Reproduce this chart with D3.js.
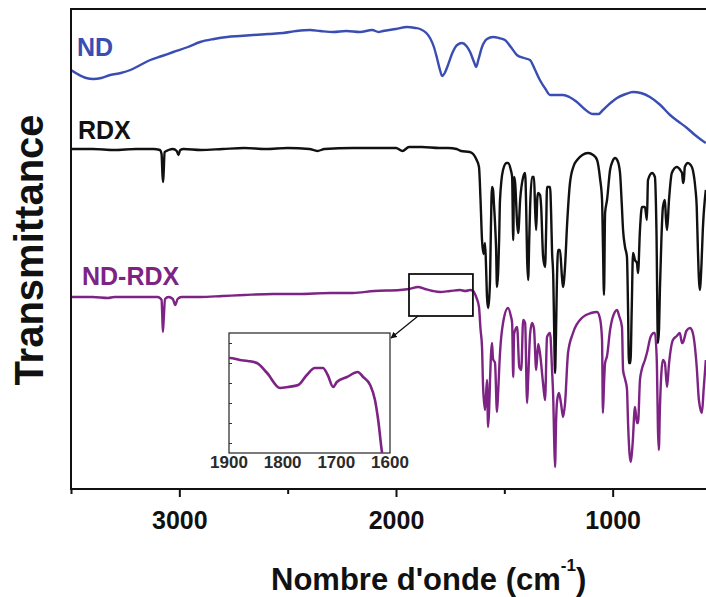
<!DOCTYPE html>
<html>
<head>
<meta charset="utf-8">
<script src="https://cdn.jsdelivr.net/npm/d3@7"></script>
<style>
  html, body { margin: 0; padding: 0; background: #ffffff; }
  svg { display: block; font-family: "Liberation Sans", Arial, sans-serif; font-weight: bold; }
</style>
</head>
<body>
<svg id="chart" width="706" height="597"></svg>
<script>
// FTIR spectra: [wavenumber (cm-1), offset transmittance (a.u.)]
const ndSpectrum = [
  [3500, 41.9], [3470, 41.5], [3430, 41.1], [3397, 41.0], [3360, 41.1], [3319, 41.4],
  [3270, 41.6], [3226, 41.9], [3180, 42.4], [3134, 42.9], [3080, 43.3], [3028, 43.7],
  [2960, 44.2], [2904, 44.7], [2840, 45.0], [2779, 45.2], [2720, 45.3], [2659, 45.4],
  [2590, 45.5], [2521, 45.6], [2460, 45.8], [2396, 45.9], [2350, 45.8], [2290, 45.7],
  [2230, 45.8], [2166, 45.7], [2110, 45.9], [2080, 45.7], [2060, 45.8], [2000, 46.0],
  [1949, 46.2], [1910, 46.1], [1889, 46.0], [1860, 45.6], [1843, 45.1], [1825, 44.2],
  [1811, 43.1], [1797, 41.9], [1787, 41.3], [1775, 41.6], [1760, 42.4], [1740, 43.6],
  [1718, 44.4], [1695, 44.6], [1675, 44.3], [1658, 43.7], [1640, 42.7], [1630, 42.2],
  [1620, 42.9], [1603, 44.2], [1580, 45.0], [1552, 45.2], [1525, 45.1], [1497, 44.9],
  [1470, 44.2], [1442, 43.4], [1410, 43.1], [1382, 42.9], [1360, 42.0], [1336, 40.9],
  [1310, 40.0], [1289, 39.4], [1260, 39.4], [1229, 39.4], [1200, 39.2], [1165, 38.7],
  [1130, 38.0], [1091, 37.5], [1065, 37.5], [1045, 37.9], [1010, 38.6], [980, 39.1],
  [940, 39.5], [906, 39.7], [870, 39.6], [828, 39.2], [780, 38.4], [735, 37.4],
  [700, 36.8], [657, 36.1], [620, 35.4], [590, 34.9], [570, 34.6]
];

const rdxSpectrum = [
  [3500, 34.0], [3400, 34.0], [3300, 33.9], [3200, 34.0], [3120, 34.0], [3090, 33.9],
  [3082, 33.5], [3078, 31.5], [3075, 30.7], [3072, 31.8], [3068, 33.7], [3050, 33.9],
  [3030, 34.0], [3012, 33.8], [3004, 33.4], [2996, 33.9], [2980, 34.0], [2900, 33.9],
  [2800, 34.0], [2700, 34.1], [2600, 34.0], [2500, 34.1], [2400, 34.0], [2363, 33.8],
  [2330, 34.0], [2200, 34.1], [2100, 34.1], [2000, 34.1], [1970, 33.8], [1940, 34.2],
  [1880, 34.2], [1800, 34.1], [1760, 34.1], [1720, 34.0], [1700, 33.8], [1660, 33.7],
  [1644, 33.5], [1630, 33.0], [1617, 32.2], [1610, 29.0], [1603, 24.9], [1596, 23.5],
  [1589, 24.6], [1584, 22.0], [1580, 19.2], [1575, 18.1], [1570, 19.0], [1566, 20.9],
  [1562, 26.0], [1557, 30.2], [1552, 29.9], [1548, 28.5], [1543, 26.6], [1538, 24.0],
  [1534, 20.2], [1529, 21.5], [1524, 25.0], [1520, 28.9], [1506, 31.9], [1490, 32.6],
  [1483, 32.6], [1470, 31.9], [1464, 31.2], [1459, 24.9], [1455, 31.2], [1450, 30.6],
  [1441, 26.6], [1436, 25.6], [1427, 28.9], [1413, 31.2], [1404, 31.6], [1399, 28.0],
  [1395, 23.2], [1390, 20.9], [1385, 25.0], [1381, 28.2], [1372, 31.2], [1363, 31.2],
  [1358, 28.0], [1353, 25.9], [1348, 29.0], [1344, 29.6], [1335, 29.4], [1330, 28.2],
  [1321, 23.2], [1312, 22.2], [1307, 26.0], [1303, 30.2], [1289, 30.2], [1284, 27.5],
  [1280, 23.9], [1274, 21.0], [1270, 16.0], [1266, 11.6], [1262, 15.0], [1258, 20.0],
  [1252, 23.9], [1243, 23.9], [1234, 21.2], [1229, 20.2], [1220, 22.2], [1210, 26.6],
  [1197, 30.6], [1180, 32.3], [1164, 32.9], [1140, 33.4], [1114, 33.6], [1090, 33.4],
  [1072, 32.9], [1058, 31.0], [1049, 28.9], [1045, 24.6], [1040, 19.4], [1035, 27.6],
  [1026, 28.9], [1012, 31.9], [1000, 32.8], [989, 33.1], [977, 32.8], [966, 31.6],
  [958, 28.5], [952, 25.9], [943, 24.2], [934, 23.2], [929, 18.0], [925, 12.6],
  [918, 12.6], [912, 18.0], [906, 23.6], [897, 22.9], [888, 22.6], [883, 21.6],
  [874, 25.9], [865, 28.2], [851, 28.2], [842, 26.9], [837, 30.9], [818, 31.6],
  [805, 31.2], [798, 26.0], [791, 14.6], [786, 16.0], [782, 19.9], [775, 25.0],
  [768, 28.2], [759, 28.9], [754, 27.0], [749, 25.9], [740, 28.9], [727, 31.6],
  [704, 32.2], [685, 31.8], [680, 31.6], [675, 30.6], [671, 31.0], [667, 32.2],
  [653, 32.6], [640, 32.4], [630, 31.9], [618, 30.0], [612, 28.2], [607, 24.2],
  [598, 19.9], [590, 22.5], [584, 25.9], [570, 29.9]
];

const ndRdxSpectrum = [
  [3500, 19.2], [3450, 19.2], [3400, 19.2], [3330, 19.1], [3300, 19.2], [3200, 19.2],
  [3100, 19.2], [3090, 19.1], [3082, 18.9], [3079, 17.5], [3076, 15.7], [3072, 17.0],
  [3066, 19.0], [3050, 19.2], [3030, 19.0], [3019, 18.4], [3008, 19.0], [2990, 19.2],
  [2904, 19.2], [2800, 19.3], [2700, 19.4], [2567, 19.5], [2450, 19.5], [2304, 19.6],
  [2200, 19.6], [2100, 19.8], [1981, 19.9], [1940, 20.0], [1898, 20.2], [1866, 20.0],
  [1830, 19.8], [1797, 19.7], [1751, 19.8], [1705, 19.9], [1680, 19.8], [1658, 19.9],
  [1644, 19.8], [1630, 19.2], [1617, 18.2], [1610, 16.0], [1603, 14.2], [1598, 10.2],
  [1589, 7.9], [1580, 10.9], [1575, 6.2], [1570, 8.0], [1566, 10.9], [1557, 14.6],
  [1552, 13.0], [1543, 12.6], [1534, 7.7], [1529, 9.5], [1520, 13.6], [1506, 16.6],
  [1483, 18.1], [1470, 17.3], [1464, 16.6], [1459, 11.2], [1455, 15.5], [1441, 16.2],
  [1431, 12.2], [1422, 11.9], [1413, 16.9], [1404, 16.6], [1395, 8.6], [1390, 11.0],
  [1381, 15.5], [1372, 16.6], [1363, 16.0], [1353, 11.9], [1344, 14.5], [1335, 13.5],
  [1321, 10.5], [1312, 8.9], [1303, 15.2], [1289, 15.6], [1280, 12.0], [1274, 8.9],
  [1270, 5.0], [1266, 2.2], [1261, 6.9], [1256, 8.9], [1248, 9.6], [1238, 8.5],
  [1229, 7.2], [1220, 8.5], [1206, 13.6], [1183, 15.6], [1137, 17.2], [1100, 17.6],
  [1072, 17.7], [1058, 17.0], [1049, 14.9], [1045, 7.6], [1040, 10.5], [1035, 12.6],
  [1026, 13.3], [1012, 15.9], [990, 17.7], [980, 17.9], [970, 17.3], [957, 16.2],
  [952, 11.9], [943, 11.0], [934, 10.0], [929, 6.6], [922, 3.5], [916, 2.7],
  [908, 4.5], [897, 8.2], [888, 6.6], [883, 6.6], [874, 10.9], [865, 12.0],
  [851, 12.9], [842, 13.6], [825, 15.2], [810, 15.6], [805, 15.6], [796, 12.6],
  [791, 6.0], [787, 3.9], [782, 8.0], [768, 12.9], [759, 12.6], [749, 10.2],
  [740, 12.5], [722, 14.9], [704, 15.3], [690, 15.6], [680, 14.6], [676, 14.6],
  [670, 15.0], [660, 15.8], [643, 16.1], [630, 15.6], [612, 12.2], [602, 8.9],
  [588, 7.6], [580, 10.0], [570, 12.9]
];

// ND-RDX between 1900 and 1600 cm-1, expanded scale
const insetSpectrum = [
  [1900, 4.25], [1898, 4.25], [1880, 4.15], [1865, 4.1], [1848, 4.0], [1829, 3.5],
  [1805, 2.75], [1790, 2.8], [1771, 2.9], [1755, 3.4], [1740, 3.75], [1725, 3.75],
  [1716, 3.4], [1706, 2.8], [1699, 3.05], [1680, 3.3], [1660, 3.55], [1650, 3.3],
  [1637, 2.9], [1628, 2.15], [1622, 1.15], [1615, -0.45], [1612, -0.9]
];

const seriesNames = ["ND", "RDX", "ND-RDX"];
const seriesColors = ["#3a4db2", "#111111", "#7d2384"];
const xMajorTicks = [3000, 2000, 1000];
const xMinorTicks = [3500, 2500, 1500, 500];
const insetXTicks = [1900, 1800, 1700, 1600];
const insetYTicks = [0, 1, 2, 3, 4, 5];
const zoomSpan = [1940, 1645];      // wavenumbers framed in the main plot
const zoomLevels = [17.3, 21.5];    // transmittance range framed in the main plot

const svg = d3.select("#chart");
const defs = svg.append("defs");
const plot = { left: 71, right: 721, top: 9, bottom: 489 };

const x = d3.scaleLinear().domain([3500, 500]).range([plot.left, plot.right]);
const y = d3.scaleLinear().domain([0, 48]).range([plot.bottom, plot.top]);

defs.append("clipPath").attr("id", "plotClip")
  .append("rect")
  .attr("x", plot.left).attr("y", plot.top)
  .attr("width", plot.right - plot.left).attr("height", plot.bottom - plot.top);

const line = d3.line()
  .x(d => x(d[0]))
  .y(d => y(d[1]))
  .curve(d3.curveMonotoneX);

// spectra
const curves = svg.append("g").attr("clip-path", "url(#plotClip)");
[ndSpectrum, rdxSpectrum, ndRdxSpectrum].forEach((s, i) => {
  curves.append("path")
    .datum(s)
    .attr("d", line)
    .attr("fill", "none")
    .attr("stroke", seriesColors[i])
    .attr("stroke-width", 2.4)
    .attr("stroke-linejoin", "round");
});

// frame
svg.append("rect")
  .attr("x", plot.left).attr("y", plot.top)
  .attr("width", plot.right - plot.left).attr("height", plot.bottom - plot.top)
  .attr("fill", "none").attr("stroke", "#111").attr("stroke-width", 2);

// bottom axis: major ticks with labels, minor ticks without
const majorAxis = d3.axisBottom(x).tickValues(xMajorTicks).tickSize(8).tickPadding(14)
  .tickFormat(d3.format("d"));
const gMajor = svg.append("g").attr("transform", `translate(0,${plot.bottom})`).call(majorAxis);
gMajor.select(".domain").remove();
gMajor.selectAll("line").attr("stroke", "#111").attr("stroke-width", 2);
gMajor.selectAll("text")
  .attr("fill", "#111")
  .style("font-size", "25px")
  .style("font-weight", "bold")
  .style("font-family", "'Liberation Sans', Arial, sans-serif");

const minorAxis = d3.axisBottom(x).tickValues(xMinorTicks).tickSize(5).tickFormat("");
const gMinor = svg.append("g").attr("transform", `translate(0,${plot.bottom})`).call(minorAxis);
gMinor.select(".domain").remove();
gMinor.selectAll("line").attr("stroke", "#111").attr("stroke-width", 2);

// axis titles
const xTitle = svg.append("text")
  .attr("x", 271).attr("y", 590)
  .attr("fill", "#111")
  .style("font-size", "31px");
xTitle.append("tspan").text("Nombre d'onde (cm");
xTitle.append("tspan").attr("dy", -19).style("font-size", "17px").text("-1");
xTitle.append("tspan").attr("dy", 19).text(")");

svg.append("text")
  .attr("transform", "translate(43,250) rotate(-90)")
  .attr("text-anchor", "middle")
  .attr("fill", "#111")
  .style("font-size", "40px")
  .text("Transmittance");

// series labels
const labelPos = [[77, 56], [78, 139], [82, 285]];
seriesNames.forEach((n, i) => {
  svg.append("text")
    .attr("x", labelPos[i][0]).attr("y", labelPos[i][1])
    .attr("fill", seriesColors[i])
    .style("font-size", "25px")
    .text(n);
});

// zoom window on the ND-RDX trace
const zx0 = x(zoomSpan[0]), zx1 = x(zoomSpan[1]);
const zy0 = y(zoomLevels[1]), zy1 = y(zoomLevels[0]);
svg.append("rect")
  .attr("x", zx0).attr("y", zy0)
  .attr("width", zx1 - zx0).attr("height", zy1 - zy0)
  .attr("fill", "none").attr("stroke", "#111").attr("stroke-width", 1.8);

// inset
const inset = { left: 229, right: 390, top: 333, bottom: 453 };
const ix = d3.scaleLinear().domain([1900, 1600]).range([inset.left, inset.right]);
const iy = d3.scaleLinear().domain([-0.5, 5.5]).range([inset.bottom, inset.top]);

defs.append("clipPath").attr("id", "insetClip")
  .append("rect")
  .attr("x", inset.left).attr("y", inset.top)
  .attr("width", inset.right - inset.left).attr("height", inset.bottom - inset.top);

svg.append("rect")
  .attr("x", inset.left).attr("y", inset.top)
  .attr("width", inset.right - inset.left).attr("height", inset.bottom - inset.top)
  .attr("fill", "#fff").attr("stroke", "#222").attr("stroke-width", 1.2);

const insetLine = d3.line()
  .x(d => ix(d[0]))
  .y(d => iy(d[1]))
  .curve(d3.curveMonotoneX);

svg.append("path")
  .datum(insetSpectrum)
  .attr("clip-path", "url(#insetClip)")
  .attr("d", insetLine)
  .attr("fill", "none")
  .attr("stroke", seriesColors[2])
  .attr("stroke-width", 2.6);

const gInY = svg.append("g").attr("transform", `translate(${inset.left},0)`)
  .call(d3.axisRight(iy).tickValues(insetYTicks).tickSize(3).tickFormat(""));
gInY.select(".domain").remove();
gInY.selectAll("line").attr("stroke", "#333").attr("stroke-width", 1);

svg.append("g").selectAll("text")
  .data(insetXTicks)
  .join("text")
  .attr("x", d => ix(d))
  .attr("y", 468)
  .attr("text-anchor", "middle")
  .attr("fill", "#2a2a2a")
  .style("font-size", "17px")
  .text(d => d);

// arrow from the zoom window to the inset
defs.append("marker")
  .attr("id", "arrowHead")
  .attr("viewBox", "0 0 10 10")
  .attr("refX", 9).attr("refY", 5)
  .attr("markerWidth", 5).attr("markerHeight", 5)
  .attr("orient", "auto")
  .append("path").attr("d", "M0,0 L10,5 L0,10 z").attr("fill", "#111");

svg.append("line")
  .attr("x1", x(1898)).attr("y1", zy1)
  .attr("x2", inset.right + 1).attr("y2", inset.top + 5)
  .attr("stroke", "#111").attr("stroke-width", 1.3)
  .attr("marker-end", "url(#arrowHead)");
</script>
</body>
</html>
